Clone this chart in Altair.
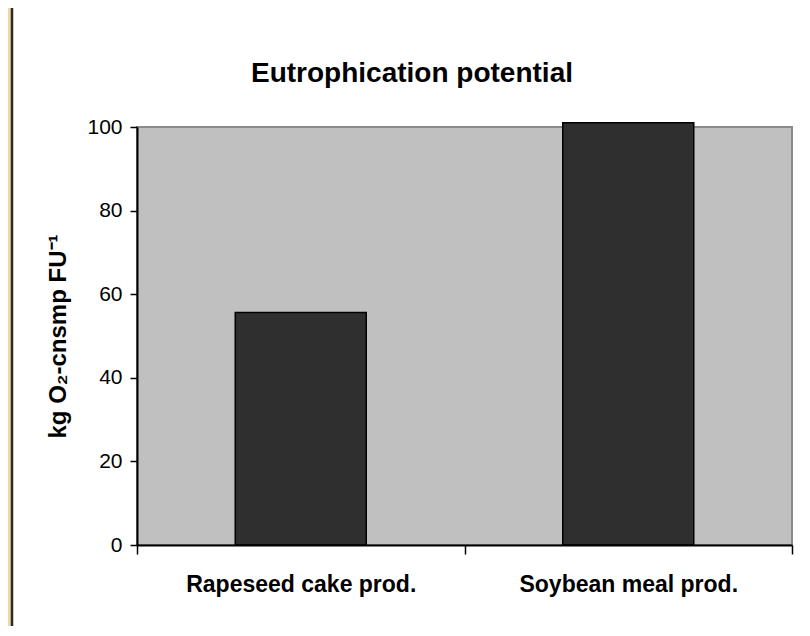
import altair as alt
import pandas as pd

categories = ["Rapeseed cake prod.", "Soybean meal prod."]
values = [55.6, 101.0]
y_ticks = [0, 20, 40, 60, 80, 100]
chart_title = ["Eutrophication potential"]

FONT = "Liberation Sans"
W, H = 655, 418

df = pd.DataFrame({"cat": categories, "val": values})
one = pd.DataFrame({"k": [0]})
tdf = pd.DataFrame({"t": chart_title})

frame = alt.Chart(one).mark_rect(fill="white", stroke="#2b2b2b", strokeWidth=2.5).encode(
    x=alt.value(-125), x2=alt.value(700), y=alt.value(-140), y2=alt.value(540)
)
plotbg = alt.Chart(one).mark_rect(fill="#c0c0c0", stroke="#8a8a8a", strokeWidth=2).encode(
    x=alt.value(0), x2=alt.value(W), y=alt.value(0), y2=alt.value(H)
)
title = alt.Chart(tdf).mark_text(
    font=FONT, fontSize=28, fontWeight="bold", color="black",
    align="center", baseline="alphabetic"
).encode(text="t:N", x=alt.value(275), y=alt.value(-45))

bars = alt.Chart(df).mark_bar(
    width=alt.RelativeBandSize(0.4), fill="#2f2f2f", stroke="#000000", strokeWidth=1.5
).encode(
    x=alt.X("cat:N", sort=categories,
            scale=alt.Scale(paddingInner=0, paddingOuter=0),
            axis=alt.Axis(title=None, labelAngle=0, labelFont=FONT, labelFontSize=23,
                          labelFontWeight="bold", labelColor="black", labelPadding=19,
                          labelLimit=500,
                          tickBand="extent", tickSize=9, tickColor="black", tickWidth=1.5,
                          domainColor="black", domainWidth=2, zindex=1, grid=False)),
    y=alt.Y("val:Q", scale=alt.Scale(domain=[0, 100], nice=False),
            axis=alt.Axis(values=y_ticks, title="kg O₂-cnsmp FU⁻¹", titleFont=FONT,
                          titleFontSize=24, titleFontWeight="bold", titleColor="black",
                          titleAngle=-90, titleAlign="center", titleBaseline="alphabetic",
                          titleX=-72, titleY=H / 2,
                          labelFont=FONT, labelFontSize=21, labelColor="black", labelPadding=8,
                          tickSize=7, tickColor="black", tickWidth=1.5,
                          domainColor="black", domainWidth=2, zindex=1, grid=False)),
)

chart = alt.layer(frame, plotbg, bars, title).properties(
    width=W, height=H,
    padding={"left": 129, "top": 119, "right": 10, "bottom": 81},
    autosize=alt.AutoSizeParams(type="none"),
    background="#eed7a9",
).configure_view(strokeWidth=0)

chart.save("out.html", embed_options={"renderer": "svg", "actions": False})
